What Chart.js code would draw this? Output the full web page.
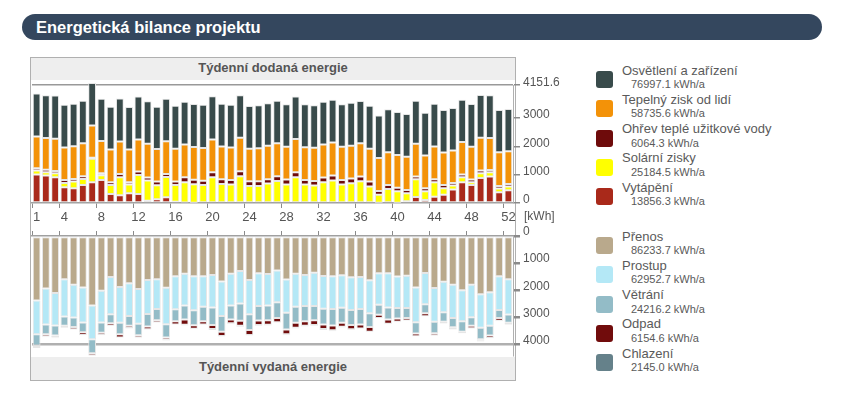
<!DOCTYPE html>
<html><head><meta charset="utf-8">
<script src="https://cdn.jsdelivr.net/npm/chart.js@4/dist/chart.umd.min.js"></script>
<style>
html,body{margin:0;padding:0;background:#fff;width:843px;height:394px;overflow:hidden;font-family:"Liberation Sans",Arial,sans-serif;}
#hdr{position:absolute;left:22px;top:14px;width:800px;height:26px;border-radius:13px;background:#34475e;color:#fff;font-weight:bold;font-size:16.5px;line-height:26px;box-sizing:border-box;padding-left:14px;}
#box{position:absolute;left:30px;top:57px;width:484px;height:322px;border:1px solid #b0b0b0;}
.band{position:absolute;left:31px;width:484px;background:#eeeeee;color:#555;font-weight:bold;font-size:13px;text-align:center;}
.cv{position:absolute;}
#unit{position:absolute;left:524px;top:209px;font-size:12px;color:#555;}
.sw{position:absolute;width:17px;height:17px;border-radius:3px;}
.ln{position:absolute;font-size:13px;color:#5a5a5a;white-space:nowrap;line-height:15px;}
.lv{position:absolute;font-size:11px;color:#5a5a5a;white-space:nowrap;line-height:13px;}
</style></head>
<body>
<div id="hdr">Energetická bilance projektu</div>
<div id="box"></div>
<div class="band" style="top:58px;height:22px;line-height:19px;">Týdenní dodaná energie</div>
<div class="band" style="top:357px;height:23px;line-height:20px;">Týdenní vydaná energie</div>
<canvas id="c1" class="cv" width="560" height="155" style="left:20px;top:75px;width:560px;height:155px;"></canvas>
<canvas id="c2" class="cv" width="560" height="145" style="left:20px;top:220px;width:560px;height:145px;"></canvas>
<div id="unit">[kWh]</div>
<div id="legend"></div>
<script>
// ---- categories / ticks ----
const weeks = Array.from({length: 52}, (_, i) => String(i + 1));
const labelledWeeks = [1, 4, 8, 12, 16, 20, 24, 28, 32, 36, 40, 44, 48, 52];
const supplyTicks = [0, 1000, 2000, 3000, 4151.6];
const outputTicks = [0, 1000, 2000, 3000, 4000];

// ---- supplied energy (legend order) ----
const supplyNames = ['Osvětlení a zařízení', 'Tepelný zisk od lidí', 'Ohřev teplé užitkové vody', 'Solární zisky', 'Vytápění'];
const supplyTotals = ['76997.1 kWh/a', '58735.6 kWh/a', '6064.3 kWh/a', '25184.5 kWh/a', '13856.3 kWh/a'];
const supplyColors = ['#394b4b', '#f39208', '#6e0b0b', '#ffff00', '#a9291a'];

const lighting = [1509,1509,1521,1509,1497,1497,1497,1497,1509,1509,1497,1509,1497,1497,1497,1521,1509,1509,1521,1521,1509,1509,1497,1509,1509,1497,1497,1497,1497,1509,1497,1509,1509,1497,1521,1486,1521,1497,1509,1509,1509,1521,1509,1509,1497,1497,1497,1509,1509,1509,1486,1486];
const people = [1120,1120,1132,1144,1155,1167,1144,1132,1155,1144,1155,1132,1191,1144,1155,1155,1155,1155,1155,1155,1155,1144,1179,1144,1167,1179,1167,1155,1167,1155,1167,1167,1167,1167,1155,1179,1155,1167,1155,1155,1167,1155,1155,1155,1144,1144,1144,1155,1155,1120,1191,1155];
const hotWater = [83,83,83,106,94,94,35,71,94,118,83,118,106,130,106,118,177,165,153,177,165,165,177,165,165,153,165,177,177,165,165,165,177,165,165,165,177,130,141,130,118,94,106,106,118,94,94,94,94,83,94,94];
const solar = [141,118,141,153,236,212,825,165,318,637,307,672,707,495,719,590,707,648,601,908,672,648,943,601,601,684,778,648,908,648,613,731,790,648,696,766,578,283,495,401,283,625,307,507,224,141,177,94,165,153,130,130];
const heating = [1002,967,908,554,519,637,731,813,318,271,342,318,83,130,200,47,20,10,30,0,0,0,0,0,0,0,0,0,0,0,0,0,0,0,0,0,0,10,0,10,59,212,106,224,295,472,731,637,884,931,377,448];
const supplyData = [lighting, people, hotWater, solar, heating];

// ---- released energy (legend order, from 0 downward) ----
const outputNames = ['Přenos', 'Prostup', 'Větrání', 'Odpad', 'Chlazení'];
const outputTotals = ['86233.7 kWh/a', '62952.7 kWh/a', '24216.2 kWh/a', '6154.6 kWh/a', '2145.0 kWh/a'];
const outputColors = ['#b9a98c', '#b4e8f6', '#93bcc7', '#710c0c', '#65818a'];

const transfer = [2374,1928,2097,1591,1795,1892,2555,2012,1506,1880,1735,1952,1615,1591,1904,1482,1386,1480,1482,1434,1675,1386,1289,1615,1374,1398,1265,1603,1386,1434,1350,1470,1482,1446,1518,1506,1627,1374,1374,1494,1458,1892,1362,1916,1687,1795,2000,1795,2145,2073,1482,1591];
const conduction = [1241,1326,1193,1374,1205,1289,1241,1169,1374,1313,1205,1277,1253,1097,1338,1217,1169,1255,1121,1193,1265,1169,1193,1265,1205,1157,1169,1217,1217,1145,1229,1205,1205,1193,1205,1181,1217,1157,1253,1157,1193,1277,1145,1241,1121,1217,1133,1193,1229,1229,1241,1301];
const ventilation = [410,362,374,337,349,362,518,374,325,422,362,422,458,410,494,434,518,548,530,651,578,518,639,578,530,542,578,615,590,554,518,578,603,554,554,566,506,362,446,386,362,422,337,422,349,349,386,313,422,362,289,301];
const waste = [60,84,72,72,84,96,84,84,96,120,84,84,108,84,84,120,193,126,120,145,157,133,181,181,169,169,157,181,181,169,181,169,181,145,157,145,169,120,157,120,96,96,108,84,60,72,60,96,60,84,108,60];
const cooling = [36,24,24,12,12,12,12,12,12,12,12,24,12,12,24,12,24,24,24,36,24,36,36,24,24,24,24,36,24,24,24,36,36,24,24,12,12,0,12,12,12,12,12,12,12,12,12,12,24,12,12,24];
const outputData = [transfer, conduction, ventilation, waste, cooling];

// ---- charts ----
const FONT = '"Liberation Sans", Arial, sans-serif';
Chart.defaults.font.family = FONT;

function ds(name, data, color) {
  return {label: name, data: data, backgroundColor: color, borderColor: '#e6e6e6', borderWidth: 1,
    borderSkipped: false, clip: false, barPercentage: 0.84, categoryPercentage: 1.0};
}
const xTickColor = ctx => labelledWeeks.includes(ctx.index + 1) ? '#8a8a8a' : 'rgba(0,0,0,0)';

// upper: bottom-up order = reverse of legend
const supplyOrder = [4, 3, 2, 1, 0];
new Chart(document.getElementById('c1'), {
  type: 'bar',
  data: {labels: weeks, datasets: supplyOrder.map(i => ds(supplyNames[i], supplyData[i], supplyColors[i]))},
  options: {
    responsive: false, animation: false,
    layout: {padding: {left: 12, top: 10, right: 0, bottom: 0}},
    plugins: {legend: {display: false}, tooltip: {enabled: false}},
    scales: {
      x: {stacked: true,
        grid: {drawOnChartArea: false, tickLength: 5, tickColor: xTickColor},
        border: {display: true, color: '#a0a0a0', width: 1.5},
        ticks: {autoSkip: false, maxRotation: 0, padding: 2, color: '#555', font: {size: 13},
          callback: (v, i) => labelledWeeks.includes(i + 1) ? weeks[i] : ''},
        afterFit: s => { s.height = 27; }},
      y: {stacked: true, position: 'right', min: 0, max: 4151.6,
        afterBuildTicks: s => { s.ticks = supplyTicks.map(v => ({value: v})); },
        grid: {color: ctx => (ctx.tick && ctx.tick.value === 4151.6) ? '#999' : 'rgba(0,0,0,0)', lineWidth: 1.5,
          tickLength: 7, tickColor: '#8a8a8a'},
        border: {display: true, color: '#b0b0b0'},
        ticks: {color: '#555', font: {size: 12}, padding: 3, labelOffset: -3, callback: v => String(v)},
        afterFit: s => { s.width = 67; }}
    }
  }
});

new Chart(document.getElementById('c2'), {
  type: 'bar',
  data: {labels: weeks, datasets: outputData.map((d, i) => ds(outputNames[i], d, outputColors[i]))},
  options: {
    responsive: false, animation: false,
    layout: {padding: {left: 12, top: 0, right: 0, bottom: 8}},
    plugins: {legend: {display: false}, tooltip: {enabled: false}},
    scales: {
      x: {stacked: true, position: 'top',
        grid: {drawOnChartArea: false, tickLength: 5, tickColor: xTickColor},
        border: {display: true, color: '#a0a0a0', width: 1.5},
        ticks: {autoSkip: false, maxRotation: 0, padding: 0, callback: () => ''},
        afterFit: s => { s.height = 16; }},
      y: {stacked: true, position: 'right', reverse: true, min: 0, max: 4370,
        afterBuildTicks: s => { s.ticks = outputTicks.map(v => ({value: v})); },
        grid: {color: ctx => (ctx.tick && ctx.tick.value === 4000) ? '#b0b0b0' : 'rgba(0,0,0,0)', lineWidth: 2.5,
          tickLength: 7, tickColor: '#8a8a8a'},
        border: {display: true, color: '#b0b0b0'},
        ticks: {color: '#555', font: {size: 12}, padding: 3, labelOffset: -4, callback: v => String(v)},
        afterFit: s => { s.width = 67; }}
    }
  }
});

// ---- HTML legend built from the arrays ----
function legend(names, totals, colors, top0) {
  const root = document.getElementById('legend');
  names.forEach((n, i) => {
    const t = top0 + i * 29.3;
    const sw = document.createElement('div'); sw.className = 'sw';
    sw.style.left = '596px'; sw.style.top = (t + 0.5) + 'px'; sw.style.background = colors[i];
    const ln = document.createElement('div'); ln.className = 'ln';
    ln.style.left = '622px'; ln.style.top = (t - 8) + 'px'; ln.textContent = n;
    const lv = document.createElement('div'); lv.className = 'lv';
    lv.style.left = '631px'; lv.style.top = (t + 7.5) + 'px'; lv.textContent = totals[i];
    root.appendChild(sw); root.appendChild(ln); root.appendChild(lv);
  });
}
legend(supplyNames, supplyTotals, supplyColors, 70.5);
legend(outputNames, outputTotals, outputColors, 236.5);
</script>
</body></html>
